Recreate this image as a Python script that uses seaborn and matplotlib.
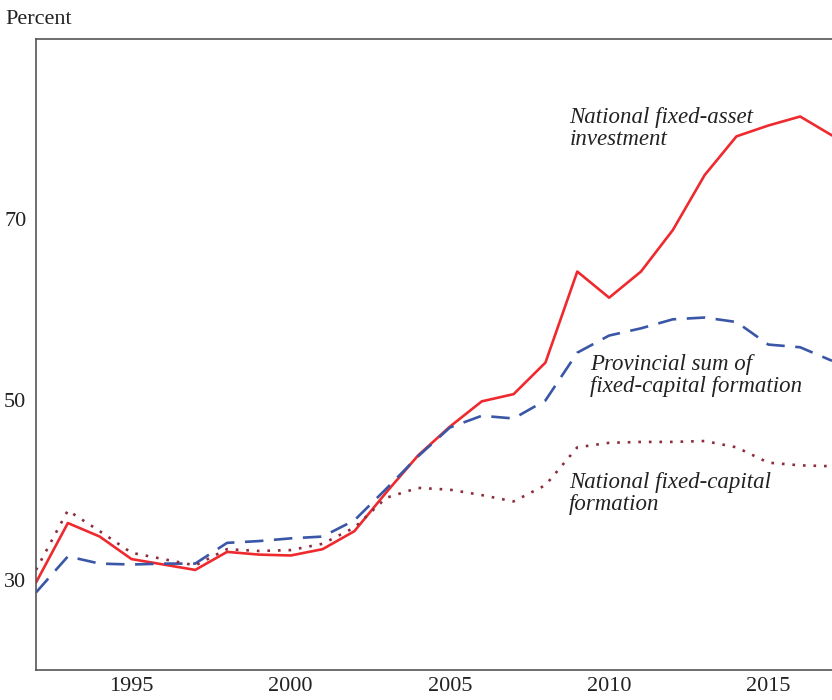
import pandas as pd
import matplotlib
matplotlib.use("Agg")
import matplotlib.pyplot as plt
import seaborn as sns

# Data (percent)
years = list(range(1992, 2018))
asset_investment = [29.7, 36.3, 34.8, 32.3, 31.7, 31.1, 33.1, 32.8, 32.7, 33.4,
                    35.4, 39.7, 43.8, 47.0, 49.8, 50.6, 54.1, 64.2, 61.3, 64.2,
                    68.8, 74.9, 79.2, 80.4, 81.4, 79.3]
provincial_sum = [28.6, 32.6, 31.8, 31.7, 31.8, 31.8, 34.1, 34.3, 34.6, 34.8,
                  36.6, 40.1, 43.7, 46.9, 48.2, 47.9, 49.9, 55.2, 57.1, 57.9,
                  58.9, 59.1, 58.6, 56.1, 55.8, 54.3]
capital_formation = [31.1, 37.7, 35.4, 33.0, 32.3, 31.6, 33.4, 33.2, 33.3, 34.0,
                     35.8, 39.1, 40.2, 40.0, 39.4, 38.7, 40.5, 44.7, 45.2, 45.3,
                     45.3, 45.4, 44.7, 43.0, 42.7, 42.6]

df = pd.DataFrame({
    "year": years * 3,
    "value": asset_investment + provincial_sum + capital_formation,
    "series": (["asset"] * len(years) + ["provincial"] * len(years)
               + ["capital"] * len(years)),
})

sns.set_style("white")
plt.rcParams["font.family"] = ["Liberation Serif", "DejaVu Serif"]

fig = plt.figure(figsize=(8.32, 7.0), dpi=100)
ax = fig.add_axes([0.0433, 0.0429, 0.9567, 0.9014])

palette = {"asset": "#ee2a2e", "provincial": "#3a56a6", "capital": "#8c2d3c"}
dashes = {"asset": "", "provincial": (7, 4), "capital": (1, 3)}
sns.lineplot(data=df, x="year", y="value", hue="series", style="series",
             palette=palette, dashes=dashes, linewidth=1.9, legend=False, ax=ax)

ax.set_xlim(1992, 2017)
ax.set_ylim(20, 90)
ax.set_xticks([1995, 2000, 2005, 2010, 2015])
ax.set_yticks([30, 50, 70])
ax.set_xlabel("")
ax.set_ylabel("")
ax.tick_params(axis="both", direction="in", length=8, width=1, color="#333333",
               labelsize=16, labelcolor="#222222")
ax.tick_params(axis="x", pad=5)
ax.tick_params(axis="y", pad=7)
for side in ["left", "top", "bottom"]:
    ax.spines[side].set_color("#555555")
    ax.spines[side].set_linewidth(1.2)
ax.spines["right"].set_visible(False)

fig.text(0.007, 0.972, "Percent", fontsize=16, color="#222222", va="center")

lab = dict(fontsize=16.5, style="italic", color="#222222", va="top", linespacing=1.1)
ax.text(2008.76, 82.5, "National fixed-asset\ninvestment", **lab)
ax.text(2009.39, 55.1, "Provincial sum of\nfixed-capital formation", **lab)
ax.text(2008.73, 42.0, "National fixed-capital\nformation", **lab)

fig.savefig("out.png", dpi=100)
